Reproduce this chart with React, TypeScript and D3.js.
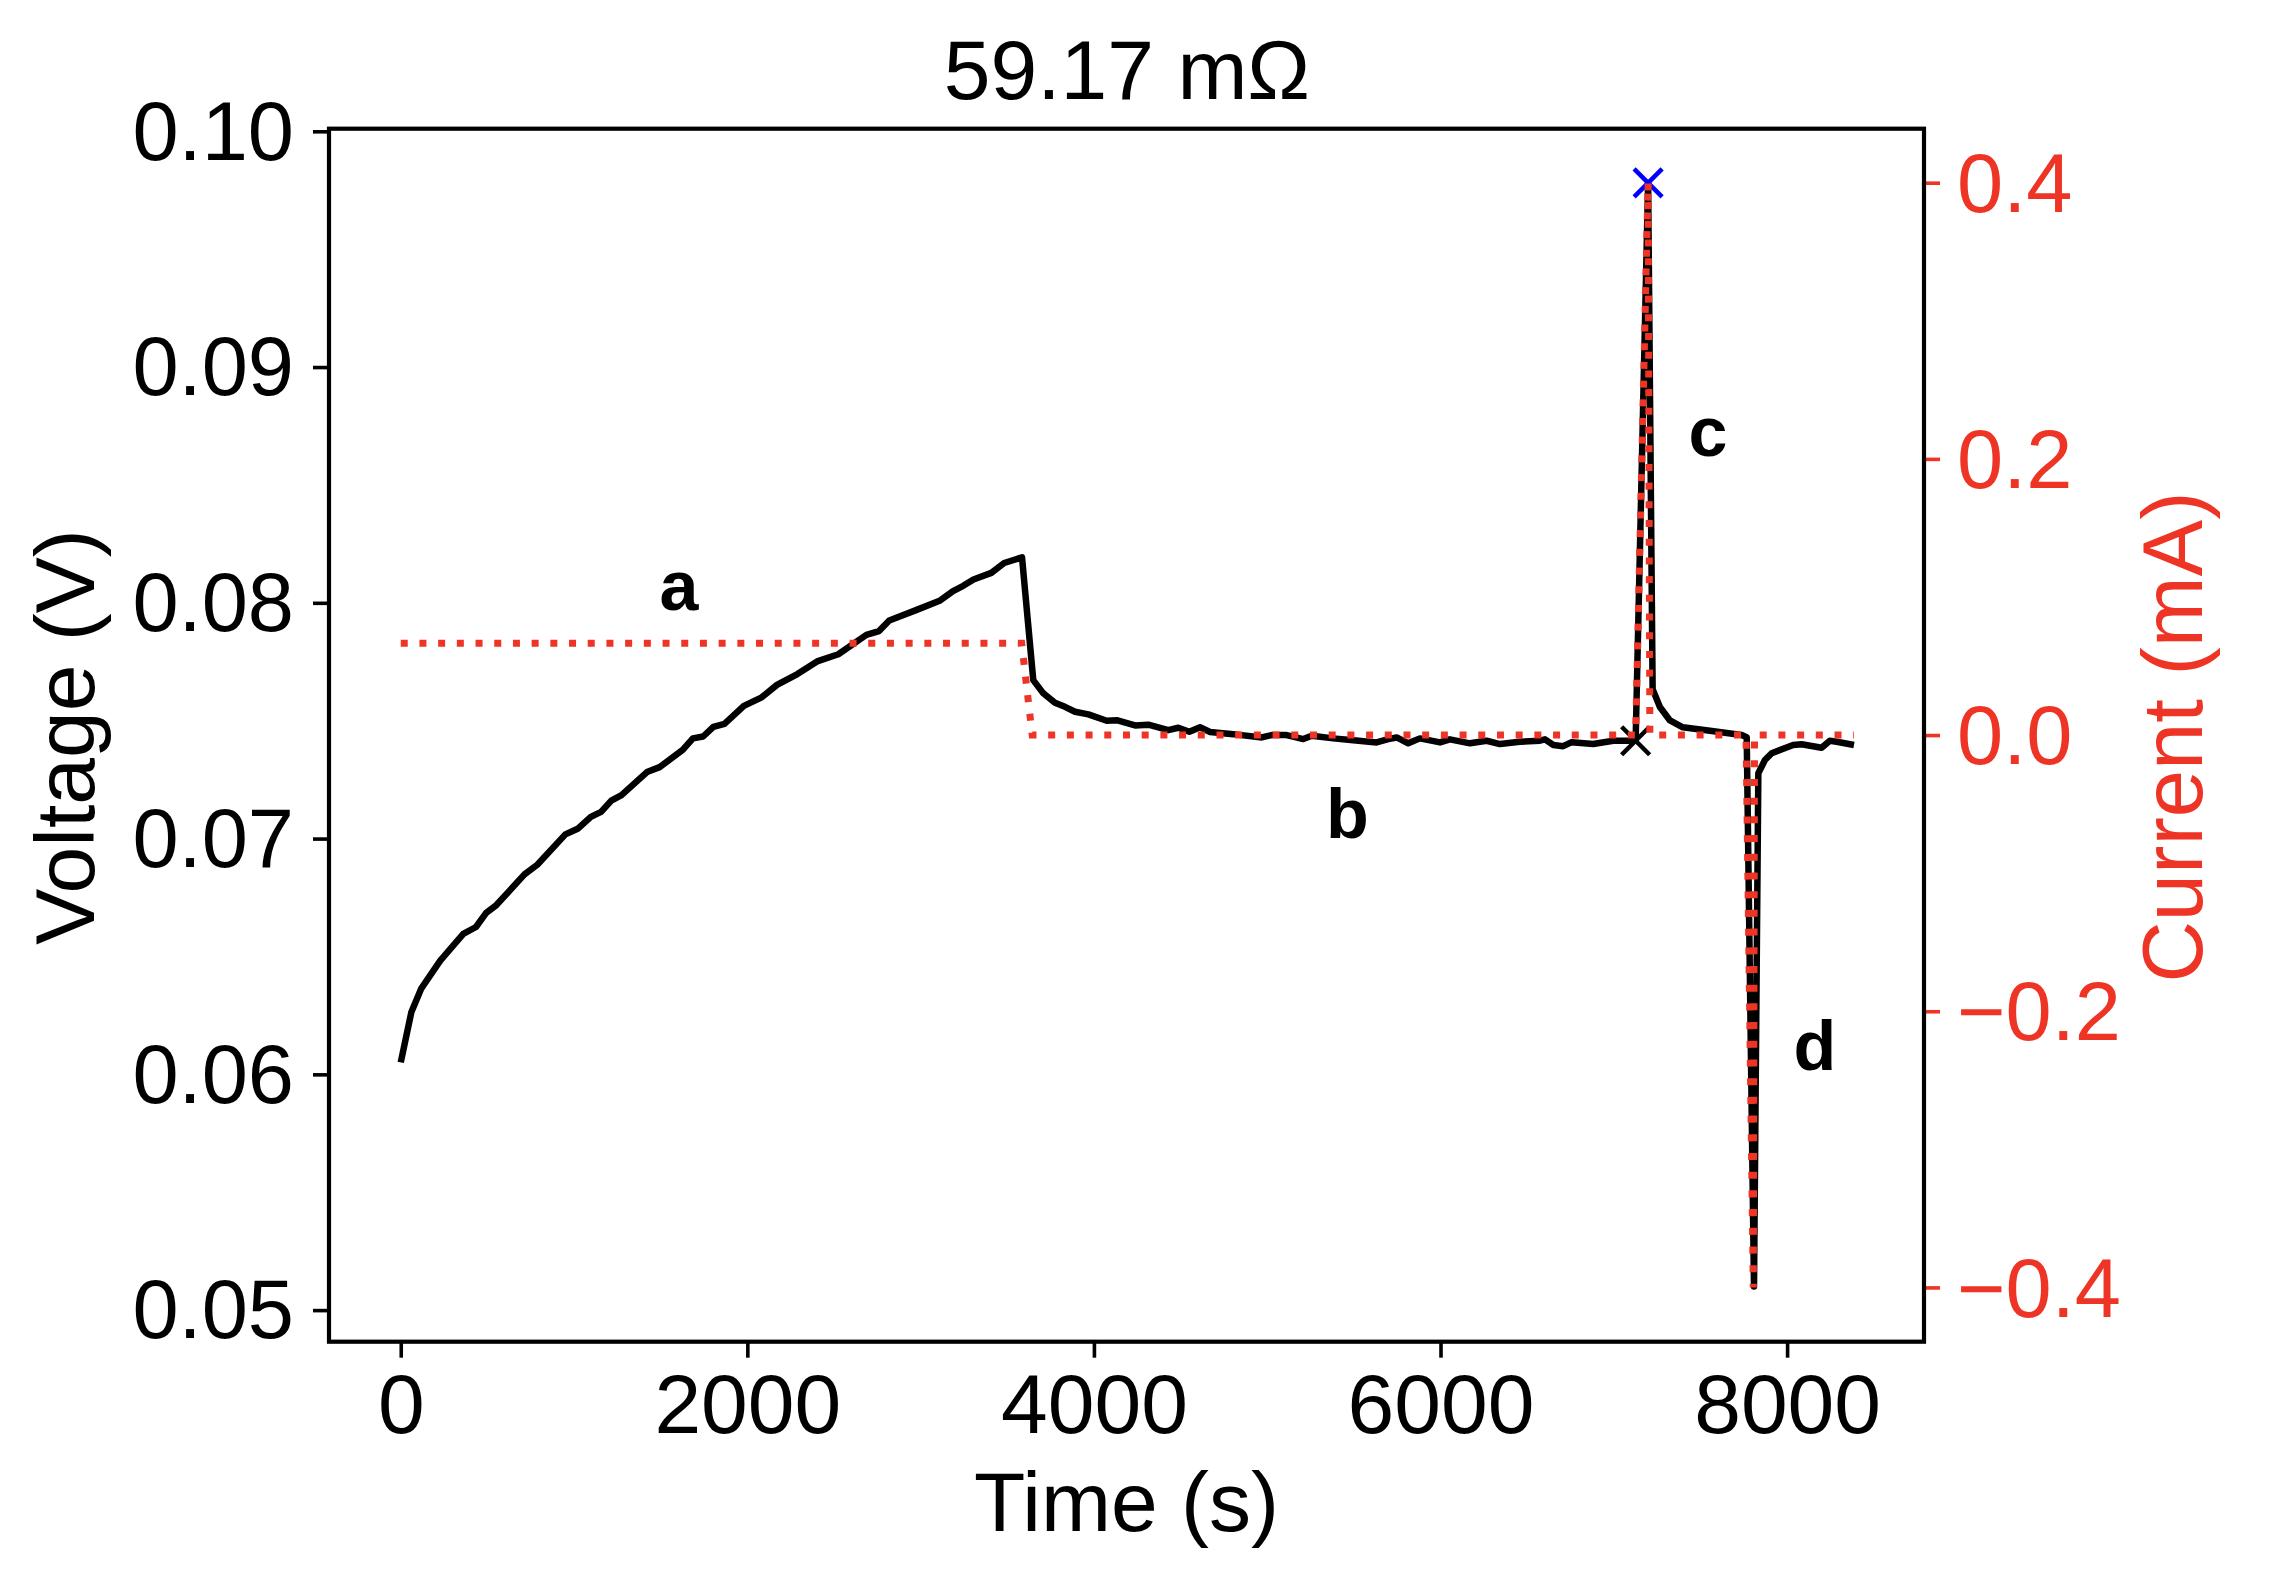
import { useEffect, useRef } from "react"
import * as d3 from "d3"

const voltageTime = [
  0, 61, 119, 228, 361, 434, 493, 552, 714, 788, 950, 1024, 1097, 1156, 1215, 1274, 1421, 1494, 1627, 1686, 1745, 1804,
  1868, 1980, 2083, 2171, 2289, 2407, 2525, 2687, 2760, 2819, 2981, 3113, 3187, 3246, 3305, 3408, 3482, 3585, 3650,
  3708, 3775, 3833, 3891, 3968, 4074, 4131, 4237, 4314, 4429, 4487, 4551, 4612, 4670, 4804, 4968, 5026, 5112, 5208,
  5257, 5381, 5497, 5631, 5699, 5747, 5814, 5881, 5997, 6054, 6170, 6266, 6343, 6458, 6574, 6603, 6651, 6708, 6757,
  6881, 6997, 7126, 7198, 7224, 7266, 7324, 7398, 7555, 7738, 7767, 7809, 7834, 7872, 7911, 8035, 8084, 8199, 8247,
  8286, 8386,
]
const voltage = [
  0.06051, 0.06263, 0.06365, 0.06482, 0.06596, 0.06625, 0.06685, 0.06718, 0.06848, 0.06889, 0.07018, 0.07043, 0.07092,
  0.07113, 0.07161, 0.07184, 0.07282, 0.07303, 0.07376, 0.07425, 0.07433, 0.07474, 0.07487, 0.07563, 0.07599, 0.07652,
  0.07698, 0.07753, 0.07782, 0.07864, 0.0788, 0.07925, 0.07971, 0.0801, 0.0805, 0.08072, 0.08099, 0.08127, 0.08169,
  0.08193, 0.07672, 0.07616, 0.07576, 0.07559, 0.07538, 0.07527, 0.075, 0.07502, 0.0748, 0.07483, 0.0746, 0.0747,
  0.07453, 0.07472, 0.07452, 0.07443, 0.07429, 0.07439, 0.07439, 0.07422, 0.07436, 0.07425, 0.07417, 0.07408, 0.07422,
  0.07429, 0.07404, 0.07425, 0.07408, 0.07421, 0.07404, 0.07415, 0.07401, 0.07411, 0.07415, 0.07421, 0.07397, 0.07392,
  0.07409, 0.07401, 0.07415, 0.07415, 0.09781, 0.07634, 0.07558, 0.07501, 0.07472, 0.07457, 0.07439, 0.0743, 0.0510,
  0.07277, 0.07333, 0.07362, 0.07397, 0.074, 0.07385, 0.07415, 0.07411, 0.07397,
]
const currentTime = [0, 3583, 3644, 7126, 7198, 7208, 7763, 7805, 7812, 8386]
const current = [0.0665, 0.0665, 0, 0, 0.4, 0, 0, -0.4, 0, 0]

const markerTime = [7126, 7198]
const markerVoltage = [0.07415, 0.09781]
const markerColor = ["#000000", "#0000ff"]

const timeTicks = [0, 2000, 4000, 6000, 8000]
const voltageTicks = [0.05, 0.06, 0.07, 0.08, 0.09, 0.1]
const currentTicks = [-0.4, -0.2, 0, 0.2, 0.4]

const annotationText = ["a", "b", "c", "d"]
const annotationTime = [1606, 5463, 7543, 8161]
const annotationVoltage = [0.07969, 0.07002, 0.08623, 0.06018]

const RED = "#ee3425"
const FONT = "'Liberation Sans', Arial, sans-serif"

export default function App() {
  const svgRef = useRef<SVGSVGElement>(null)

  useEffect(() => {
    if (!svgRef.current) return

    const svg = d3.select(svgRef.current)
    svg.selectAll("*").remove()

    const frame = { left: 329, right: 1924, top: 128.7, bottom: 1341.7 }

    const x = d3.scaleLinear().domain([-414, 8790]).range([frame.left, frame.right])
    const y = d3.scaleLinear().domain([0.04866, 0.10011]).range([frame.bottom, frame.top])
    const yRight = d3.scaleLinear().domain([-0.4393, 0.4391]).range([frame.bottom, frame.top])

    svg.append("rect").attr("width", 2284).attr("height", 1594).attr("fill", "#ffffff")

    // X axis
    const xAxis = svg
      .append("g")
      .attr("transform", `translate(0, ${frame.bottom})`)
      .call(d3.axisBottom(x).tickValues(timeTicks).tickSize(16).tickFormat(d3.format("d")))
    xAxis.selectAll(".tick text").attr("y", 91).attr("dy", 0).attr("font-size", 84)

    // Left axis
    const yAxis = svg
      .append("g")
      .attr("transform", `translate(${frame.left}, 0)`)
      .call(d3.axisLeft(y).tickValues(voltageTicks).tickSize(16).tickPadding(19).tickFormat(d3.format(".2f")))
    yAxis.selectAll(".tick text").attr("dy", "0.335em").attr("font-size", 83)

    // Right axis
    const rightAxis = svg
      .append("g")
      .attr("transform", `translate(${frame.right}, 0)`)
      .call(d3.axisRight(yRight).tickValues(currentTicks).tickSize(16).tickPadding(17).tickFormat(d3.format(".1f")))
    rightAxis.selectAll(".tick text").attr("dy", "0.345em").attr("fill", RED).attr("font-size", 83)
    rightAxis.selectAll(".tick line").attr("stroke", RED)

    for (const axis of [xAxis, yAxis, rightAxis]) {
      axis.select(".domain").remove()
      axis.selectAll(".tick text").attr("font-family", FONT)
      axis.selectAll(".tick line").attr("stroke-width", 3.6)
    }

    // Frame
    svg
      .append("rect")
      .attr("x", frame.left)
      .attr("y", frame.top)
      .attr("width", frame.right - frame.left)
      .attr("height", frame.bottom - frame.top)
      .attr("fill", "none")
      .attr("stroke", "#000000")
      .attr("stroke-width", 4.2)

    // Voltage
    const voltageLine = d3
      .line<number>()
      .x((d) => x(voltageTime[d]))
      .y((d) => y(voltage[d]))
    svg
      .append("path")
      .attr("d", voltageLine(d3.range(voltageTime.length)))
      .attr("fill", "none")
      .attr("stroke", "#000000")
      .attr("stroke-width", 6.5)
      .attr("stroke-linejoin", "round")

    // Markers
    svg
      .selectAll(".marker")
      .data(markerTime)
      .enter()
      .append("path")
      .attr("class", "marker")
      .attr("transform", (d, i) => `translate(${x(d)}, ${y(markerVoltage[i])})`)
      .attr("d", "M-14,-14L14,14M-14,14L14,-14")
      .attr("fill", "none")
      .attr("stroke", (d, i) => markerColor[i])
      .attr("stroke-width", 4.5)

    // Current
    const currentLine = d3
      .line<number>()
      .x((d) => x(currentTime[d]))
      .y((d) => yRight(current[d]))
    svg
      .append("path")
      .attr("d", currentLine(d3.range(currentTime.length)))
      .attr("fill", "none")
      .attr("stroke", RED)
      .attr("stroke-width", 7)
      .attr("stroke-dasharray", "7 11.7")

    // Annotations
    svg
      .selectAll(".annotation")
      .data(annotationText)
      .enter()
      .append("text")
      .attr("class", "annotation")
      .attr("x", (d, i) => x(annotationTime[i]))
      .attr("y", (d, i) => y(annotationVoltage[i]))
      .attr("text-anchor", "middle")
      .attr("font-family", FONT)
      .attr("font-size", 70)
      .attr("font-weight", "bold")
      .attr("fill", "#000000")
      .text((d) => d)

    // Titles
    svg
      .append("text")
      .attr("x", 1127)
      .attr("y", 99)
      .attr("text-anchor", "middle")
      .attr("font-family", FONT)
      .attr("font-size", 84)
      .attr("fill", "#000000")
      .text("59.17 mΩ")

    svg
      .append("text")
      .attr("x", 1126.5)
      .attr("y", 1531)
      .attr("text-anchor", "middle")
      .attr("font-family", FONT)
      .attr("font-size", 84)
      .attr("fill", "#000000")
      .text("Time (s)")

    svg
      .append("text")
      .attr("transform", "translate(94, 737) rotate(-90)")
      .attr("text-anchor", "middle")
      .attr("font-family", FONT)
      .attr("font-size", 84)
      .attr("fill", "#000000")
      .text("Voltage (V)")

    svg
      .append("text")
      .attr("transform", "translate(2201.7, 737) rotate(-90)")
      .attr("text-anchor", "middle")
      .attr("font-family", FONT)
      .attr("font-size", 85)
      .attr("fill", RED)
      .text("Current (mA)")
  }, [])

  return (
    <svg
      ref={svgRef}
      width={2284}
      height={1594}
      style={{ position: "absolute", left: 0, top: 0, display: "block" }}
    />
  )
}
